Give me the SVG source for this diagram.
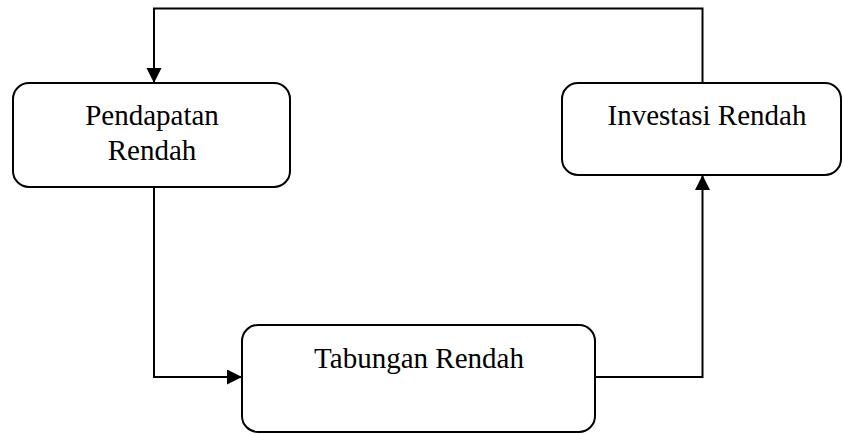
<svg xmlns="http://www.w3.org/2000/svg" width="843" height="434" viewBox="0 0 843 434">
<style>
.box{fill:#fff;stroke:#000;stroke-width:2}
.lbl{font-family:"Liberation Serif","Times New Roman",serif;font-size:29px;fill:#000;text-anchor:middle}
.conn{fill:none;stroke:#000;stroke-width:2}
</style>
<defs>
<marker id="ah" markerWidth="16" markerHeight="16" refX="15" refY="7.5" orient="auto" markerUnits="userSpaceOnUse">
<path d="M0,0 L15,7.5 L0,15 Z" fill="#000"/>
</marker>
</defs>
<g id="connectors">
<path class="conn" d="M702.5,83 V8.5 H154 V83" marker-end="url(#ah)"/>
<path class="conn" d="M154,187 V377 H242" marker-end="url(#ah)"/>
<path class="conn" d="M594,377 H702.5 V175" marker-end="url(#ah)"/>
</g>
<g id="pendapatan">
<rect class="box" x="13" y="83" width="277" height="104" rx="16"/>
<text class="lbl" x="152" y="125">Pendapatan</text>
<text class="lbl" x="152" y="160">Rendah</text>
</g>
<g id="investasi">
<rect class="box" x="562" y="83" width="279" height="92" rx="16"/>
<text class="lbl" x="707" y="125">Investasi Rendah</text>
</g>
<g id="tabungan">
<rect class="box" x="242" y="325" width="353" height="107" rx="16"/>
<text class="lbl" x="419" y="368">Tabungan Rendah</text>
</g>
</svg>
